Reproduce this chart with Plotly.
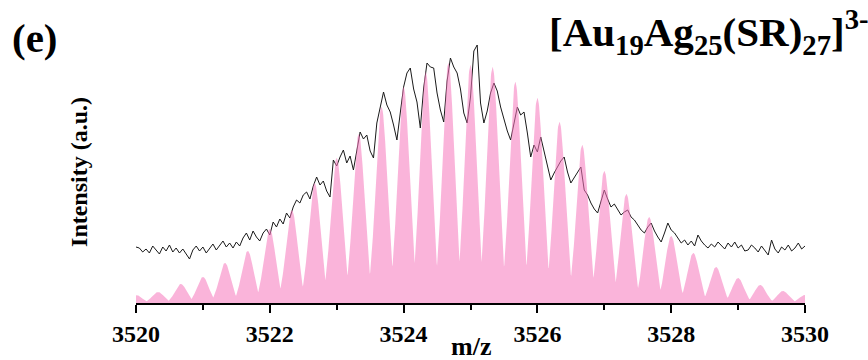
import numpy as np
import plotly.graph_objects as go

# Simulated isotope pattern for [Au19Ag25(SR)27]3- : peak centres (m/z) and heights (a.u.)
sim_mz = [3520.00, 3520.33, 3520.67, 3521.00, 3521.33, 3521.67, 3522.00, 3522.33,
          3522.67, 3523.00, 3523.33, 3523.67, 3524.00, 3524.33, 3524.67, 3525.00,
          3525.33, 3525.67, 3526.00, 3526.33, 3526.67, 3527.00, 3527.33, 3527.67,
          3528.00, 3528.33, 3528.67, 3529.00, 3529.33, 3529.67, 3530.00]
sim_height = [8, 11, 19, 26, 40, 52, 74, 93, 120, 145, 169, 196, 216, 231, 240, 238,
              236, 221, 205, 181, 158, 132, 109, 86, 67, 50, 36, 25, 18, 12, 8]
peak_sigma = 0.088  # width of each simulated isotope peak

# Experimental spectrum (offset upward), sampled every 0.05 m/z from 3520 to 3530
exp_start, exp_step = 3520.0, 0.05
exp_intensity = [
    56, 55, 51, 54, 50, 57, 53, 49, 56, 52, 58, 51, 55, 50, 54, 49, 44, 53, 57, 52,
    56, 50, 55, 59, 53, 57, 62, 56, 60, 55, 61, 57, 65, 70, 63, 72, 66, 62, 70, 74,
    68, 81, 76, 84, 79, 90, 85, 96, 103, 100, 108, 111, 104, 117, 126, 118, 122, 112, 106, 143,
    137, 146, 153, 140, 147, 133, 152, 171, 164, 168, 152, 145, 180, 195, 211, 198, 191, 178, 163, 190,
    216, 230, 235, 214, 201, 175, 215, 240, 236, 235, 210, 193, 181, 222, 245, 236, 230, 214, 190, 180,
    206, 252, 258, 200, 180, 192, 210, 220, 212, 196, 184, 172, 163, 178, 196, 188, 191, 170, 146, 158,
    151, 166, 152, 138, 123, 130, 136, 142, 146, 131, 120, 125, 130, 136, 113, 108, 100, 94, 90, 102,
    113, 104, 96, 99, 93, 88, 91, 93, 86, 83, 78, 73, 70, 76, 80, 72, 66, 61, 70, 80,
    73, 70, 65, 60, 63, 58, 62, 57, 68, 62, 58, 55, 59, 56, 61, 57, 54, 60, 56, 61,
    55, 58, 52, 53, 58, 55, 51, 57, 52, 48, 63, 54, 50, 56, 53, 58, 52, 55, 60, 54,
    57]
exp_mz = [exp_start + i * exp_step for i in range(len(exp_intensity))]

x_ticks = [3520, 3522, 3524, 3526, 3528, 3530]

# Simulated profile: envelope of the individual Gaussian isotope peaks
grid = np.linspace(3519.5, 3530.5, 2201)
profile = np.zeros_like(grid)
for c, h in zip(sim_mz, sim_height):
    profile = np.maximum(profile, h * np.exp(-((grid - c) ** 2) / (2 * peak_sigma ** 2)))

serif = "Liberation Serif, Times New Roman, serif"

fig = go.Figure()
fig.add_trace(go.Scatter(
    x=exp_mz, y=exp_intensity, mode="lines",
    line=dict(color="#1a1a1a", width=1), showlegend=False, hoverinfo="skip"))
fig.add_trace(go.Scatter(
    x=grid, y=profile, mode="lines", fill="tozeroy",
    fillcolor="rgba(246,119,188,0.55)",
    line=dict(color="rgba(246,119,188,0.0)", width=0),
    showlegend=False, hoverinfo="skip"))

fig.update_layout(
    width=868, height=360,
    margin=dict(l=136, r=63, t=30, b=57),
    paper_bgcolor="white", plot_bgcolor="white",
    font=dict(family=serif, color="black"),
    xaxis=dict(
        range=[3520, 3530], tickvals=x_ticks, ticktext=[str(v) for v in x_ticks],
        ticks="outside", ticklen=8, tickwidth=2, tickcolor="black",
        minor=dict(dtick=1, ticks="outside", ticklen=5, tickwidth=2, tickcolor="black"),
        showline=True, linewidth=2, linecolor="black",
        showgrid=False, zeroline=False,
        tickfont=dict(family=serif, size=24, weight="bold", color="black"),
    ),
    yaxis=dict(
        range=[0, 273], showline=False, showgrid=False, zeroline=False,
        showticklabels=False, ticks="",
    ),
    annotations=[
        dict(text="<b>m/z</b>", xref="paper", yref="paper", x=0.5, y=0,
             yshift=-43, showarrow=False, xanchor="center", yanchor="middle",
             font=dict(family=serif, size=26, color="black")),
        dict(text="<b>Intensity (a.u.)</b>", xref="paper", yref="paper", x=0, y=0.48,
             xshift=-57, textangle=-90, showarrow=False,
             xanchor="center", yanchor="middle",
             font=dict(family=serif, size=24, color="black")),
        dict(text="<b>(e)</b>", xref="paper", yref="paper", x=0, y=1,
             xshift=-101, yshift=-8, showarrow=False,
             xanchor="center", yanchor="middle",
             font=dict(family=serif, size=41, color="black")),
        dict(text="<b>[Au<sub>19</sub>Ag<sub>25</sub>(SR)<sub>27</sub>]<sup>3-</sup></b>",
             xref="paper", yref="paper", x=1, y=1, xshift=66, yshift=-2,
             showarrow=False, xanchor="right", yanchor="middle",
             font=dict(family=serif, size=41, color="black")),
    ],
)

fig.write_html("out.html")
